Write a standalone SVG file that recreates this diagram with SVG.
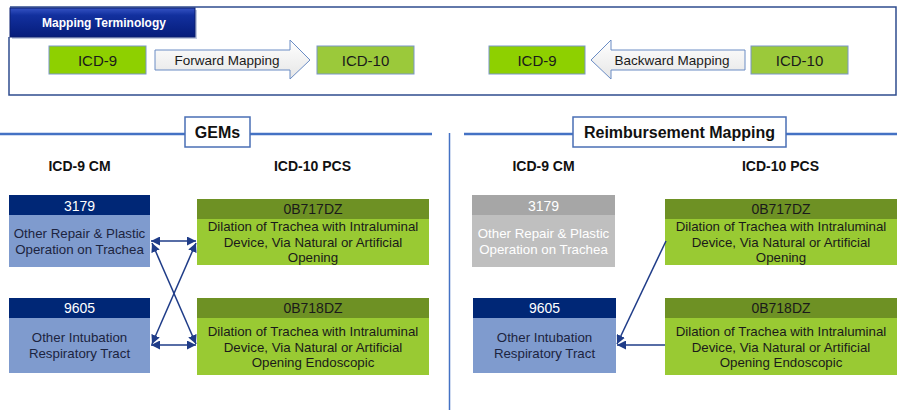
<svg xmlns="http://www.w3.org/2000/svg" width="899" height="410" viewBox="0 0 899 410">
<style>
text{font-family:"Liberation Sans",Arial,sans-serif}
.frame{fill:none;stroke:#2F4C8F;stroke-width:1.5}
.g9{fill:#8ED000;stroke:#7A96C8;stroke-width:1}
.g10{fill:#9BC93A;stroke:#7A96C8;stroke-width:1}
.lbl{font-size:15px;fill:#1a1a1a;text-anchor:middle}
.arr{fill:url(#ag);stroke:#6A8CC4;stroke-width:1}
.arrt{font-size:13.5px;fill:#1a1a1a;text-anchor:middle}
.sec{fill:#fff;stroke:#4A6FB5;stroke-width:1.5}
.secl{stroke:#4472C4;stroke-width:2.5}
.sect{font-size:16px;font-weight:bold;fill:#111;text-anchor:middle}
.colh{font-size:14px;font-weight:bold;fill:#111;text-anchor:middle}
.bh{fill:#002776}
.bb{fill:#7F9BCE}
.gh{fill:#6E9124}
.gb{fill:#99CA33}
.xh{fill:#A6A6A6}
.xb{fill:#BFBFBF}
.ht{font-size:14px;text-anchor:middle}
.bt{font-size:13.3px;text-anchor:middle}
.w{fill:#fff}
.d{fill:#1a1a1a}
.dn{fill:#1C2440}
.con{stroke:#1F3C88;stroke-width:1.5;fill:none}
</style>
<defs>
<linearGradient id="ag" x1="0" y1="0" x2="0" y2="1">
<stop offset="0" stop-color="#FFFFFF"/>
<stop offset="1" stop-color="#E6E6E6"/>
</linearGradient>
<linearGradient id="tg" x1="0" y1="0" x2="0" y2="1">
<stop offset="0" stop-color="#3553C4"/>
<stop offset="0.25" stop-color="#12309E"/>
<stop offset="1" stop-color="#061C7A"/>
</linearGradient>
<marker id="ah" viewBox="0 0 10 10" refX="10" refY="5" markerUnits="userSpaceOnUse" markerWidth="9" markerHeight="9" orient="auto-start-reverse">
<path d="M0,0 L10,5 L0,10 z" fill="#1F3C88"/>
</marker>
</defs>

<g id="terminology">
<path class="frame" d="M9,37 V95 H896 V7 H10"/>
<rect x="12" y="10" width="185" height="29" fill="#9AA6C8" opacity="0.6"/>
<rect id="tab" x="10" y="8" width="185" height="29" fill="url(#tg)" stroke="#0A1F70" stroke-width="1"/>
<text x="104" y="27" font-size="12px" font-weight="bold" fill="#fff" text-anchor="middle">Mapping Terminology</text>
</g>

<g id="fwd-icd9">
<rect class="g9" x="49" y="46" width="97" height="28"/>
<text class="lbl" x="97.5" y="65.5">ICD-9</text>
</g>
<g id="fwd-arrow">
<polygon class="arr" points="155,50 290,50 290,40 310,60 290,79 290,70 155,70"/>
<text class="arrt" x="227" y="65">Forward Mapping</text>
</g>
<g id="fwd-icd10">
<rect class="g10" x="317" y="46" width="97" height="28"/>
<text class="lbl" x="365.5" y="65.5">ICD-10</text>
</g>

<g id="bwd-icd9">
<rect class="g9" x="489" y="46" width="96" height="28"/>
<text class="lbl" x="537" y="65.5">ICD-9</text>
</g>
<g id="bwd-arrow">
<polygon class="arr" points="745,50 611,50 611,40 591,60 611,79 611,70 745,70"/>
<text class="arrt" x="672" y="65">Backward Mapping</text>
</g>
<g id="bwd-icd10">
<rect class="g10" x="751" y="46" width="97" height="28"/>
<text class="lbl" x="799.5" y="65.5">ICD-10</text>
</g>

<g id="dividers">
<line class="secl" x1="0" y1="134" x2="185" y2="134"/>
<line class="secl" x1="250" y1="134" x2="432" y2="134"/>
<line class="secl" x1="464" y1="134" x2="573" y2="134"/>
<line class="secl" x1="786" y1="134" x2="897" y2="134"/>
<line x1="449.5" y1="133" x2="449.5" y2="410" stroke="#4472C4" stroke-width="1.5"/>
</g>

<g id="gems-title">
<rect class="sec" x="185" y="117" width="65" height="30"/>
<text class="sect" x="217.5" y="138">GEMs</text>
</g>
<g id="reimb-title">
<rect class="sec" x="573" y="117" width="213" height="30"/>
<text class="sect" x="679.5" y="138">Reimbursement  Mapping</text>
</g>

<g id="col-headers">
<text class="colh" x="79.5" y="171">ICD-9 CM</text>
<text class="colh" x="312.5" y="171">ICD-10 PCS</text>
<text class="colh" x="543.5" y="171">ICD-9 CM</text>
<text class="colh" x="780.5" y="171">ICD-10 PCS</text>
</g>

<g id="gems-3179">
<rect class="bh" x="9" y="195" width="141" height="20"/>
<rect class="bb" x="9" y="215" width="141" height="52"/>
<text class="ht w" x="79.5" y="211">3179</text>
<text class="bt dn" x="79.5" y="238">Other Repair &amp; Plastic</text>
<text class="bt dn" x="79.5" y="253.5">Operation on Trachea</text>
</g>
<g id="gems-9605">
<rect class="bh" x="9" y="298" width="141" height="20"/>
<rect class="bb" x="9" y="318" width="141" height="55"/>
<text class="ht w" x="79.5" y="313">9605</text>
<text class="bt dn" x="79.5" y="342">Other Intubation</text>
<text class="bt dn" x="79.5" y="358">Respiratory Tract</text>
</g>
<g id="gems-0B717DZ">
<rect class="gh" x="197" y="199" width="232" height="20"/>
<rect class="gb" x="197" y="219" width="232" height="46"/>
<text class="ht d" x="313" y="214">0B717DZ</text>
<text class="bt d" x="313" y="231">Dilation of Trachea with Intraluminal</text>
<text class="bt d" x="313" y="246.5">Device, Via Natural or Artificial</text>
<text class="bt d" x="313" y="262">Opening</text>
</g>
<g id="gems-0B718DZ">
<rect class="gh" x="197" y="298" width="232" height="20"/>
<rect class="gb" x="197" y="318" width="232" height="57"/>
<text class="ht d" x="313" y="313">0B718DZ</text>
<text class="bt d" x="313" y="336">Dilation of Trachea with Intraluminal</text>
<text class="bt d" x="313" y="351.5">Device, Via Natural or Artificial</text>
<text class="bt d" x="313" y="367">Opening Endoscopic</text>
</g>

<g id="reimb-3179">
<rect class="xh" x="472" y="195" width="143" height="20"/>
<rect class="xb" x="472" y="215" width="143" height="52"/>
<text class="ht w" x="543.5" y="211">3179</text>
<text class="bt w" x="543.5" y="238">Other Repair &amp; Plastic</text>
<text class="bt w" x="543.5" y="253.5">Operation on Trachea</text>
</g>
<g id="reimb-9605">
<rect class="bh" x="473" y="298" width="143" height="20"/>
<rect class="bb" x="473" y="318" width="143" height="55"/>
<text class="ht w" x="544.5" y="313">9605</text>
<text class="bt dn" x="544.5" y="342">Other Intubation</text>
<text class="bt dn" x="544.5" y="358">Respiratory Tract</text>
</g>
<g id="reimb-0B717DZ">
<rect class="gh" x="665" y="199" width="232" height="20"/>
<rect class="gb" x="665" y="219" width="232" height="46"/>
<text class="ht d" x="781" y="214">0B717DZ</text>
<text class="bt d" x="781" y="231">Dilation of Trachea with Intraluminal</text>
<text class="bt d" x="781" y="246.5">Device, Via Natural or Artificial</text>
<text class="bt d" x="781" y="262">Opening</text>
</g>
<g id="reimb-0B718DZ">
<rect class="gh" x="665" y="298" width="232" height="20"/>
<rect class="gb" x="665" y="318" width="232" height="57"/>
<text class="ht d" x="781" y="313">0B718DZ</text>
<text class="bt d" x="781" y="336">Dilation of Trachea with Intraluminal</text>
<text class="bt d" x="781" y="351.5">Device, Via Natural or Artificial</text>
<text class="bt d" x="781" y="367">Opening Endoscopic</text>
</g>

<g id="connectors">
<line class="con" x1="151" y1="241" x2="196" y2="241" marker-start="url(#ah)" marker-end="url(#ah)"/>
<line class="con" x1="151" y1="345" x2="196" y2="345" marker-start="url(#ah)" marker-end="url(#ah)"/>
<line class="con" x1="152" y1="243" x2="196" y2="344" marker-start="url(#ah)" marker-end="url(#ah)"/>
<line class="con" x1="196" y1="243" x2="152" y2="344" marker-start="url(#ah)" marker-end="url(#ah)"/>
<line class="con" x1="666" y1="241" x2="617" y2="344" marker-end="url(#ah)"/>
<line class="con" x1="665" y1="345" x2="617" y2="345" marker-end="url(#ah)"/>
</g>
</svg>
